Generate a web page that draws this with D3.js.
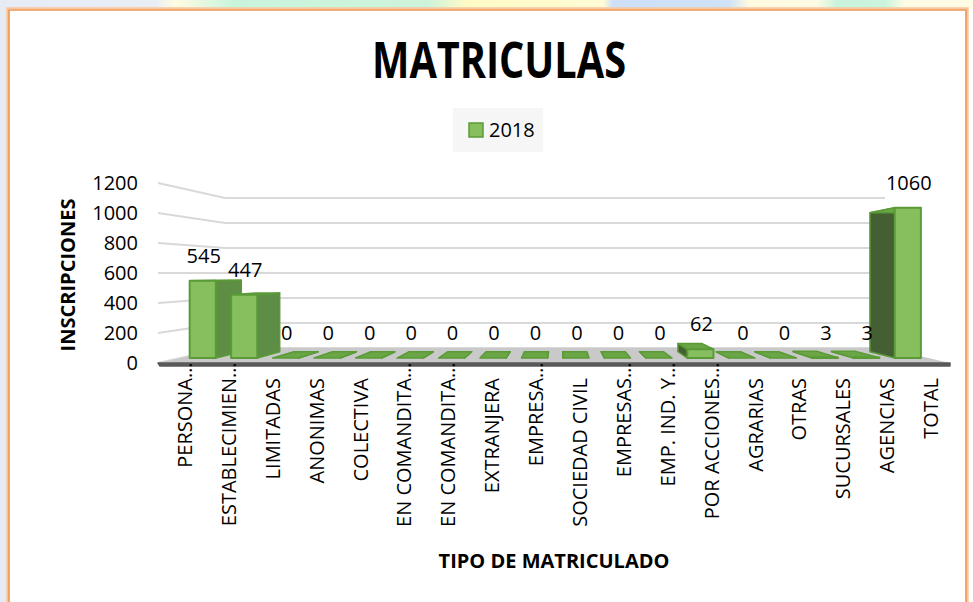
<!DOCTYPE html>
<html>
<head>
<meta charset="utf-8">
<script src="https://cdn.jsdelivr.net/npm/d3@7/dist/d3.min.js"></script>
<style>
	body { margin: 0; background: #fff; }
	text { font-family: 'Open Sans', sans-serif; fill: #000; }
</style>
</head>
<body>
<div id="chart"></div>
<script>
/*globals d3*/

// data
const categories = ['PERSONA…', 'ESTABLECIMIEN…', 'LIMITADAS', 'ANONIMAS', 'COLECTIVA',
	'EN COMANDITA…', 'EN COMANDITA…', 'EXTRANJERA', 'EMPRESA…', 'SOCIEDAD CIVIL',
	'EMPRESAS…', 'EMP. IND. Y…', 'POR ACCIONES…', 'AGRARIAS', 'OTRAS', 'SUCURSALES',
	'AGENCIAS', 'TOTAL'];
const values2018 = [545, 447, 0, 0, 0, 0, 0, 0, 0, 0, 0, 0, 62, 0, 0, 3, 3, 1060];
const seriesName = '2018';
const yTicks = [0, 200, 400, 600, 800, 1000, 1200];

var matriculas = function() {
	'use strict';
	let chart = {};
	let svg;
	const width = 973;
	const height = 602;
	// vanishing point of the fake 3d and the depth planes (scale factors)
	const vp = [560, 273];
	const sFront = 1, sBarFront = 0.945, sBarBack = 0.875, sBack = 0.833;
	const frontFill = '#87bf5f', frontStroke = '#5a9a37';
	const rightFill = '#5e8d46', leftFill = '#445f34', topFill = '#6aa546';
	const gridColor = '#d9d9d9';

	let x = d3.scaleBand().domain(d3.range(categories.length))
		.range([160, 950]).paddingInner(0.37).paddingOuter(0.185);
	let y = d3.scaleLinear().domain([0, 1200]).range([363, 183]);
	const uLeft = 158, uRight = 950;

	function proj(u, yf, s) {
		return [vp[0] + (u - vp[0]) * s, vp[1] + (yf - vp[1]) * s];
	}

	function drawLine(p1, p2, color, w) {
		svg.append('line')
			.attr('x1', p1[0]).attr('y1', p1[1])
			.attr('x2', p2[0]).attr('y2', p2[1])
			.style('stroke', color)
			.style('stroke-width', w);
	}

	function drawPoly(pts, fill, stroke, w) {
		svg.append('polygon')
			.attr('points', pts.map(function(p) { return p.join(','); }).join(' '))
			.style('fill', fill)
			.style('stroke', stroke || 'none')
			.style('stroke-width', w || 0)
			.style('stroke-linejoin', 'round');
	}

	function drawFrame() {
		let defs = svg.append('defs');
		let grad = defs.append('linearGradient').attr('id', 'topStrip');
		const stops = [[0, '#e7ecf5'], [0.16, '#e9eef5'], [0.18, '#fffce2'], [0.24, '#c9f4dc'],
			[0.44, '#cdf3da'], [0.48, '#fffbc6'], [0.62, '#fffbd4'], [0.63, '#cde0f8'],
			[0.75, '#cfe2f6'], [0.77, '#fffbe0'], [0.84, '#fdfbe4'], [0.86, '#c9f3dd'],
			[0.91, '#cbf3dd'], [0.93, '#fffce6'], [1, '#fffce6']];
		grad.selectAll('stop').data(stops).enter().append('stop')
			.attr('offset', function(d) { return d[0]; })
			.attr('stop-color', function(d) { return d[1]; });
		svg.append('rect').attr('x', 0).attr('y', 0).attr('width', width).attr('height', 9)
			.style('fill', 'url(#topStrip)');
		svg.append('rect').attr('x', 0).attr('y', 0).attr('width', 7).attr('height', height)
			.style('fill', '#e6eaf2');
		// orange border
		svg.append('path').attr('d', 'M8,' + height + 'V9H967V' + height)
			.style('fill', 'none').style('stroke', '#f8c6a0').style('stroke-width', 3.5);
		svg.append('path').attr('d', 'M9,' + height + 'V10H966V' + height)
			.style('fill', 'none').style('stroke', '#ef8a3e').style('stroke-width', 1.2);
	}

	function drawTitles() {
		svg.append('text').text('MATRICULAS')
			.attr('x', 499).attr('y', 78)
			.attr('text-anchor', 'middle')
			.attr('textLength', 254).attr('lengthAdjust', 'spacingAndGlyphs')
			.style('font-size', '50px').style('font-weight', 'bold');
		svg.append('text').text('TIPO DE MATRICULADO')
			.attr('x', 554).attr('y', 568)
			.attr('text-anchor', 'middle')
			.style('font-size', '20px').style('font-weight', 'bold');
		svg.append('text').text('INSCRIPCIONES')
			.attr('transform', 'translate(75,275) rotate(-90)')
			.attr('text-anchor', 'middle')
			.style('font-size', '20px').style('font-weight', 'bold');
	}

	function drawLegend() {
		svg.append('rect').attr('x', 453).attr('y', 108).attr('width', 90).attr('height', 44)
			.style('fill', '#f6f6f6');
		svg.append('rect').attr('x', 469).attr('y', 123).attr('width', 14).attr('height', 14)
			.style('fill', frontFill).style('stroke', frontStroke).style('stroke-width', 1.5);
		svg.append('text').text(seriesName)
			.attr('x', 489).attr('y', 137)
			.style('font-size', '20px');
	}

	function drawWalls() {
		// gridlines on left and back walls
		yTicks.forEach(function(t) {
			let yf = y(t);
			drawLine(proj(uLeft, yf, sFront), proj(uLeft, yf, sBack), gridColor, 2);
			drawLine(proj(uLeft, yf, sBack), proj(uRight, yf, sBack), gridColor, 2);
			svg.append('text').text(t)
				.attr('x', 138).attr('y', yf)
				.attr('dy', '0.35em')
				.attr('text-anchor', 'end')
				.style('font-size', '20px');
		});
		// floor
		let y0 = y(0);
		drawPoly([proj(uLeft, y0, sFront), proj(uRight, y0, sFront),
			proj(uRight, y0, sBack), proj(uLeft, y0, sBack)], '#c9c9c9');
		drawPoly([proj(uLeft, y0, sFront), proj(uRight, y0, sFront),
			[uRight, y0 + 3], [uLeft + 2, y0 + 3]], '#595959', '#595959', 1.5);
	}

	function drawBars() {
		let order = d3.range(values2018.length).sort(function(a, b) {
			let da = Math.abs(x(a) + x.bandwidth() / 2 - vp[0]);
			let db = Math.abs(x(b) + x.bandwidth() / 2 - vp[0]);
			return db - da;
		});
		let y0 = y(0);
		order.forEach(function(i) {
			let u0 = x(i), u1 = x(i) + x.bandwidth();
			let uc = (u0 + u1) / 2;
			let yt = y(values2018[i]);
			// side face, the one turned to the vanishing point
			if (uc < vp[0]) {
				drawPoly([proj(u1, yt, sBarFront), proj(u1, yt, sBarBack),
					proj(u1, y0, sBarBack), proj(u1, y0, sBarFront)], rightFill, frontStroke, 1.5);
			} else {
				drawPoly([proj(u0, yt, sBarFront), proj(u0, yt, sBarBack),
					proj(u0, y0, sBarBack), proj(u0, y0, sBarFront)], leftFill, frontStroke, 1.5);
			}
			// top face
			drawPoly([proj(u0, yt, sBarFront), proj(u1, yt, sBarFront),
				proj(u1, yt, sBarBack), proj(u0, yt, sBarBack)], topFill, frontStroke, 1.5);
			// front face
			if (values2018[i] > 0) {
				drawPoly([proj(u0, yt, sBarFront), proj(u1, yt, sBarFront),
					proj(u1, y0, sBarFront), proj(u0, y0, sBarFront)], frontFill, frontStroke, 2);
			}
		});
		// data labels
		values2018.forEach(function(v, i) {
			let p = proj(x(i) + x.bandwidth() / 2, y(v), sBarFront);
			svg.append('text').text(v)
				.attr('x', p[0] + 1).attr('y', p[1] - 18)
				.attr('text-anchor', 'middle')
				.style('font-size', '20px');
		});
	}

	function drawCategoryLabels() {
		const _top = 378;
		categories.forEach(function(c, i) {
			let cx = x(i) + x.bandwidth() / 2 + 3;
			let cut = c.endsWith('…');
			let g = svg.append('g')
				.attr('transform', 'translate(' + cx + ',' + _top + ') rotate(-90)');
			g.append('text').text(cut ? c.slice(0, -1) : c)
				.attr('dy', '0.35em').attr('text-anchor', 'end')
				.style('font-size', '20px');
			if (cut) {
				g.append('text').text('…')
					.attr('dy', '0.35em').attr('text-anchor', 'start')
					.style('font-size', '20px');
			}
		});
	}

	chart.render = function(idSelector) {
		svg = d3.select('#' + idSelector).append('svg')
			.attr('width', width).attr('height', height);
		svg.append('rect').attr('width', width).attr('height', height).style('fill', '#fff');
		drawFrame();
		drawTitles();
		drawLegend();
		drawWalls();
		drawBars();
		drawCategoryLabels();
	};

	return chart;
};

matriculas().render('chart');
</script>
</body>
</html>
